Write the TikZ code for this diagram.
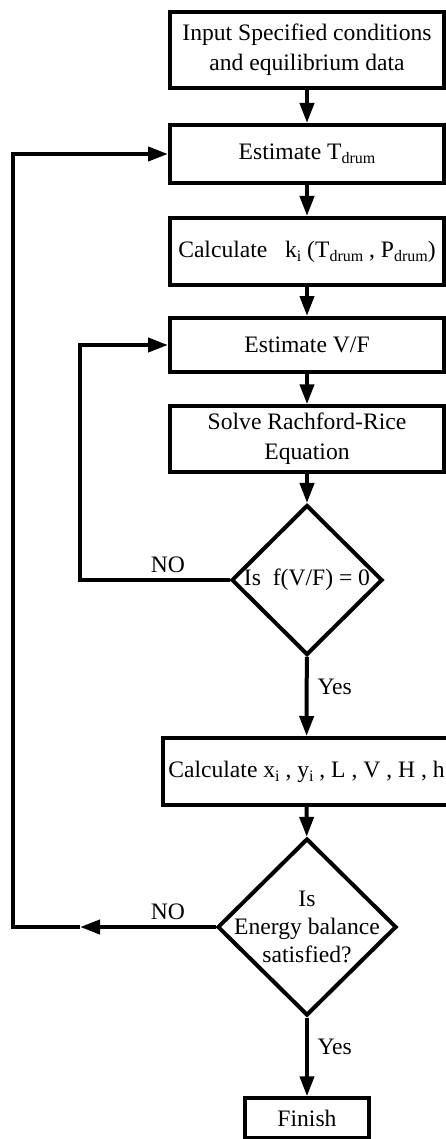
\documentclass[tikz,border=0pt]{standalone}
\usepackage{fontspec}
\setmainfont{Liberation Serif}
\usetikzlibrary{shapes.geometric,arrows.meta}
% lowered, smaller index text (T_drum, k_i, ...)
\newcommand\lowsub[1]{\raisebox{-0.4ex}{\fontsize{16}{16}\selectfont #1}}
\begin{document}
\begin{tikzpicture}[x=1pt,y=-1pt,
  every node/.style={font=\fontsize{23.6}{30}\selectfont},
  stepbox/.style={draw,line width=4pt,minimum width=274pt,align=center,inner sep=0pt},
  decision/.style={draw,diamond,line width=4pt,inner sep=0pt},
  flow/.style={line width=4pt,-{Triangle[length=20pt,width=14pt]}}]
\useasboundingbox (0,0) rectangle (446,1139);

% process steps
\node[stepbox,minimum height=76pt] (input) at (307,50) {Input Specified conditions\\and equilibrium data};
\node[stepbox,minimum height=58pt] (tdrum) at (307,154) {Estimate T\lowsub{drum}};
\node[stepbox,minimum height=67pt] (kcalc) at (307,251.5) {Calculate\ \ \ k\lowsub{i} (T\lowsub{drum} , P\lowsub{drum})};
\node[stepbox,minimum height=54pt] (vf) at (307,345) {Estimate V/F};
\node[stepbox,minimum height=66pt,line width=3.4pt] (rr) at (307,439) {Solve Rachford-Rice\\Equation};

% first test
\node[decision,minimum width=151pt,minimum height=150pt] (fcheck) at (307,580) {};
\node (ftext) at (fcheck.center) {Is\ \ f(V/F) = 0};

\node[stepbox,minimum width=287pt,minimum height=67pt] (xcalc) at (306.5,771.5) {Calculate x\lowsub{i} , y\lowsub{i} , L , V , H , h};

% energy balance test
\node[decision,minimum width=179pt,minimum height=177pt] (ebal) at (307,927) {};
\node[align=center,font=\fontsize{23.6}{28}\selectfont] (etext) at (ebal.center) {Is\\Energy balance\\satisfied?};

\node[stepbox,minimum width=124pt,minimum height=40pt,line width=3.4pt] (finish) at (307,1118) {Finish};

% main flow
\draw[flow] (input) -- (tdrum);
\draw[flow] (tdrum) -- (kcalc);
\draw[flow] (kcalc) -- (vf);
\draw[flow] (vf) -- (rr);
\draw[flow] (rr) -- (fcheck);
\draw[flow] (fcheck) -- (xcalc);
\draw[flow] (xcalc) -- (ebal);
\draw[flow] (ebal) -- (finish);

% inner loop back to V/F estimate
\coordinate (fturn) at (80,580);
\draw[flow] (fcheck.west) -- (fturn) |- (vf.west);

% outer loop back to temperature estimate
\coordinate (emid) at (80,927);
\coordinate (eturn) at (13,927);
\draw[flow] (ebal.west) -- (emid);
\draw[flow] (emid) -- (eturn) |- (tdrum.west);

% branch labels
\node (no1) at (168,565) {NO};
\node (no2) at (168,912) {NO};
\node[anchor=west] (yes1) at (314,687) {Yes};
\node[anchor=west] (yes2) at (314,1047) {Yes};
\end{tikzpicture}
\end{document}
